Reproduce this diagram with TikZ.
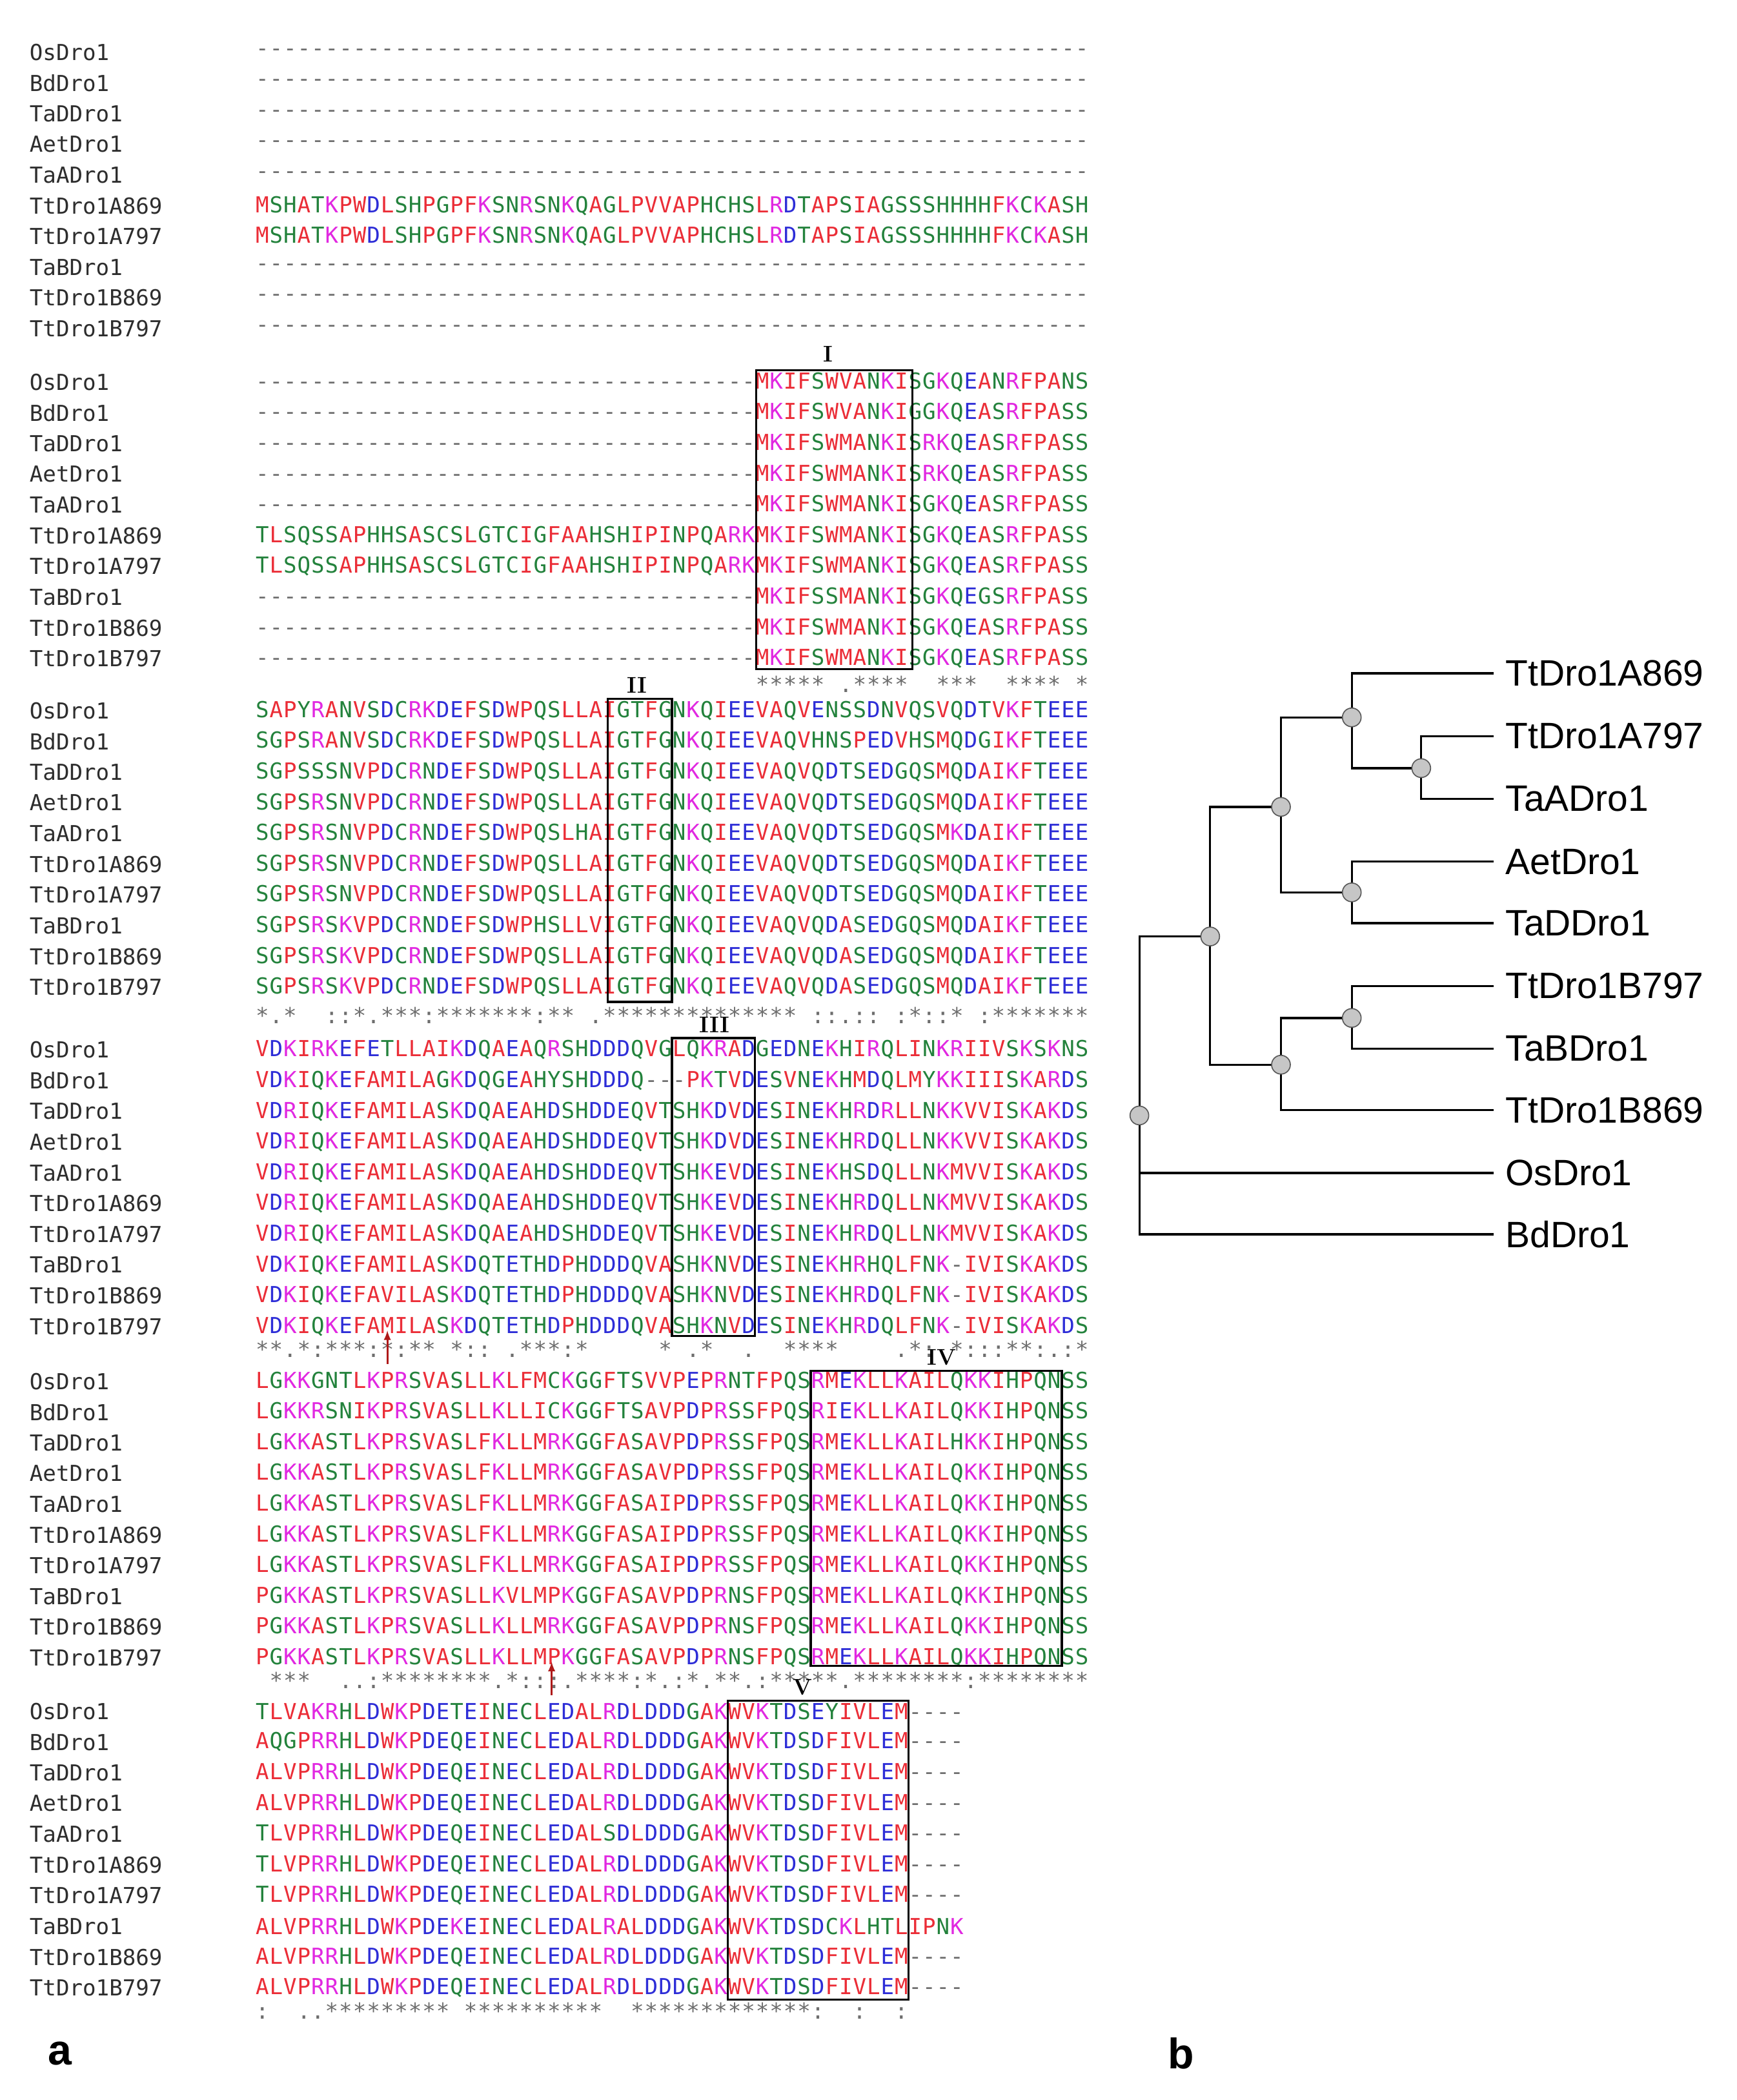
\documentclass[tikz,border=0pt]{standalone}
\usepackage{fontspec}
\usepackage{tikz}
\newfontfamily\seqfont{DejaVu Sans Mono}
\newfontfamily\treefont{Liberation Sans}

\definecolor{aared}{RGB}{235,45,55}
\definecolor{aablue}{RGB}{45,45,215}
\definecolor{aamag}{RGB}{225,40,225}
\definecolor{aagreen}{RGB}{35,130,60}
\definecolor{aagap}{RGB}{110,110,110}
\definecolor{namecol}{RGB}{45,45,45}
\definecolor{arrowred}{RGB}{175,25,25}

\ExplSyntaxOn
\cs_new:Npn \aa_res:n #1
  {
    \makebox[10.4pt]{
      \tl_if_in:nnTF {AVFPMILW} {#1} {\color{aared}#1}
        {
          \tl_if_in:nnTF {DE} {#1} {\color{aablue}#1}
            {
              \tl_if_in:nnTF {RK} {#1} {\color{aamag}#1}
                {
                  \tl_if_in:nnTF {-} {#1} {\color{aagap}#1} {\color{aagreen}#1}
                }
            }
        }
    }
  }
\cs_new:Npn \aa_con:n #1
  { \makebox[10.4pt]{ \str_if_eq:nnTF {#1} {x} {} {#1} } }
\cs_new:Npn \aa_seq:n #1 { \tl_map_inline:nn {#1} { \aa_res:n {##1} } }
\cs_new:Npn \aa_cons:n #1 { \tl_map_inline:nn {#1} { \aa_con:n {##1} } }
\NewDocumentCommand \aaseq {m} { \exp_args:No \aa_seq:n {#1} }
\NewDocumentCommand \consln {m} { \aa_cons:n {#1} }
\ExplSyntaxOff

\tikzset{
  sname/.style={anchor=west, inner sep=0pt, text=namecol, font=\seqfont\fontsize{16.5}{18}\selectfont},
  sres/.style={anchor=west, inner sep=0pt, font=\seqfont\fontsize{16.5}{18}\selectfont},
  cons/.style={anchor=west, inner sep=0pt, text=aagap, font=\seqfont\fontsize{16.5}{18}\selectfont},
  motif/.style={line width=1.6pt},
  mlabel/.style={font=\rmfamily\bfseries\fontsize{17}{17}\selectfont},
  leaf/.style={anchor=west, inner sep=0pt, inner xsep=9pt, font=\treefont\fontsize{27.5}{30}\selectfont},
  branch/.style={line width=1.6pt},
  inode/.style={circle, draw=gray!70!black, fill=gray!45, line width=0.8pt, minimum size=14pt, inner sep=0pt},
  panel/.style={font=\treefont\bfseries\fontsize{32}{34}\selectfont}
}

\newcommand\alnblock[3]{%
  \foreach \nm/\sq [count=\r] in {#3} {
    \node[sname] (n#1-\r) at (22,{#2+(\r-1)*23}) {\nm};
    \node[sres] (s#1-\r) at (191,{#2+(\r-1)*23}) {\aaseq{\sq}};
  }}

\begin{document}
\begin{tikzpicture}[x=1pt,y=-1pt]
    \useasboundingbox[fill=white] (0,0) rectangle (1300,1572);

    % Alignment blocks
    \alnblock{1}{39}{OsDro1/------------------------------------------------------------,
      BdDro1/------------------------------------------------------------,
      TaDDro1/------------------------------------------------------------,
      AetDro1/------------------------------------------------------------,
      TaADro1/------------------------------------------------------------,
      TtDro1A869/MSHATKPWDLSHPGPFKSNRSNKQAGLPVVAPHCHSLRDTAPSIAGSSSHHHHFKCKASH,
      TtDro1A797/MSHATKPWDLSHPGPFKSNRSNKQAGLPVVAPHCHSLRDTAPSIAGSSSHHHHFKCKASH,
      TaBDro1/------------------------------------------------------------,
      TtDro1B869/------------------------------------------------------------,
      TtDro1B797/------------------------------------------------------------}

    \alnblock{2}{286}{OsDro1/------------------------------------MKIFSWVANKISGKQEANRFPANS,
      BdDro1/------------------------------------MKIFSWVANKIGGKQEASRFPASS,
      TaDDro1/------------------------------------MKIFSWMANKISRKQEASRFPASS,
      AetDro1/------------------------------------MKIFSWMANKISRKQEASRFPASS,
      TaADro1/------------------------------------MKIFSWMANKISGKQEASRFPASS,
      TtDro1A869/TLSQSSAPHHSASCSLGTCIGFAAHSHIPINPQARKMKIFSWMANKISGKQEASRFPASS,
      TtDro1A797/TLSQSSAPHHSASCSLGTCIGFAAHSHIPINPQARKMKIFSWMANKISGKQEASRFPASS,
      TaBDro1/------------------------------------MKIFSSMANKISGKQEGSRFPASS,
      TtDro1B869/------------------------------------MKIFSWMANKISGKQEASRFPASS,
      TtDro1B797/------------------------------------MKIFSWMANKISGKQEASRFPASS}

    \alnblock{3}{532}{OsDro1/SAPYRANVSDCRKDEFSDWPQSLLAIGTFGNKQIEEVAQVENSSDNVQSVQDTVKFTEEE,
      BdDro1/SGPSRANVSDCRKDEFSDWPQSLLAIGTFGNKQIEEVAQVHNSPEDVHSMQDGIKFTEEE,
      TaDDro1/SGPSSSNVPDCRNDEFSDWPQSLLAIGTFGNKQIEEVAQVQDTSEDGQSMQDAIKFTEEE,
      AetDro1/SGPSRSNVPDCRNDEFSDWPQSLLAIGTFGNKQIEEVAQVQDTSEDGQSMQDAIKFTEEE,
      TaADro1/SGPSRSNVPDCRNDEFSDWPQSLHAIGTFGNKQIEEVAQVQDTSEDGQSMKDAIKFTEEE,
      TtDro1A869/SGPSRSNVPDCRNDEFSDWPQSLLAIGTFGNKQIEEVAQVQDTSEDGQSMQDAIKFTEEE,
      TtDro1A797/SGPSRSNVPDCRNDEFSDWPQSLLAIGTFGNKQIEEVAQVQDTSEDGQSMQDAIKFTEEE,
      TaBDro1/SGPSRSKVPDCRNDEFSDWPHSLLVIGTFGNKQIEEVAQVQDASEDGQSMQDAIKFTEEE,
      TtDro1B869/SGPSRSKVPDCRNDEFSDWPQSLLAIGTFGNKQIEEVAQVQDASEDGQSMQDAIKFTEEE,
      TtDro1B797/SGPSRSKVPDCRNDEFSDWPQSLLAIGTFGNKQIEEVAQVQDASEDGQSMQDAIKFTEEE}

    \alnblock{4}{786}{OsDro1/VDKIRKEFETLLAIKDQAEAQRSHDDDQVGLQKRADGEDNEKHIRQLINKRIIVSKSKNS,
      BdDro1/VDKIQKEFAMILAGKDQGEAHYSHDDDQ---PKTVDESVNEKHMDQLMYKKIIISKARDS,
      TaDDro1/VDRIQKEFAMILASKDQAEAHDSHDDEQVTSHKDVDESINEKHRDRLLNKKVVISKAKDS,
      AetDro1/VDRIQKEFAMILASKDQAEAHDSHDDEQVTSHKDVDESINEKHRDQLLNKKVVISKAKDS,
      TaADro1/VDRIQKEFAMILASKDQAEAHDSHDDEQVTSHKEVDESINEKHSDQLLNKMVVISKAKDS,
      TtDro1A869/VDRIQKEFAMILASKDQAEAHDSHDDEQVTSHKEVDESINEKHRDQLLNKMVVISKAKDS,
      TtDro1A797/VDRIQKEFAMILASKDQAEAHDSHDDEQVTSHKEVDESINEKHRDQLLNKMVVISKAKDS,
      TaBDro1/VDKIQKEFAMILASKDQTETHDPHDDDQVASHKNVDESINEKHRHQLFNK-IVISKAKDS,
      TtDro1B869/VDKIQKEFAVILASKDQTETHDPHDDDQVASHKNVDESINEKHRDQLFNK-IVISKAKDS,
      TtDro1B797/VDKIQKEFAMILASKDQTETHDPHDDDQVASHKNVDESINEKHRDQLFNK-IVISKAKDS}

    \alnblock{5}{1034}{OsDro1/LGKKGNTLKPRSVASLLKLFMCKGGFTSVVPEPRNTFPQSRMEKLLKAILQKKIHPQNSS,
      BdDro1/LGKKRSNIKPRSVASLLKLLICKGGFTSAVPDPRSSFPQSRIEKLLKAILQKKIHPQNSS,
      TaDDro1/LGKKASTLKPRSVASLFKLLMRKGGFASAVPDPRSSFPQSRMEKLLKAILHKKIHPQNSS,
      AetDro1/LGKKASTLKPRSVASLFKLLMRKGGFASAVPDPRSSFPQSRMEKLLKAILQKKIHPQNSS,
      TaADro1/LGKKASTLKPRSVASLFKLLMRKGGFASAIPDPRSSFPQSRMEKLLKAILQKKIHPQNSS,
      TtDro1A869/LGKKASTLKPRSVASLFKLLMRKGGFASAIPDPRSSFPQSRMEKLLKAILQKKIHPQNSS,
      TtDro1A797/LGKKASTLKPRSVASLFKLLMRKGGFASAIPDPRSSFPQSRMEKLLKAILQKKIHPQNSS,
      TaBDro1/PGKKASTLKPRSVASLLKVLMPKGGFASAVPDPRNSFPQSRMEKLLKAILQKKIHPQNSS,
      TtDro1B869/PGKKASTLKPRSVASLLKLLMRKGGFASAVPDPRNSFPQSRMEKLLKAILQKKIHPQNSS,
      TtDro1B797/PGKKASTLKPRSVASLLKLLMPKGGFASAVPDPRNSFPQSRMEKLLKAILQKKIHPQNSS}

    \alnblock{6}{1281}{OsDro1/TLVAKRHLDWKPDETEINECLEDALRDLDDDGAKWVKTDSEYIVLEM----,
      BdDro1/AQGPRRHLDWKPDEQEINECLEDALRDLDDDGAKWVKTDSDFIVLEM----,
      TaDDro1/ALVPRRHLDWKPDEQEINECLEDALRDLDDDGAKWVKTDSDFIVLEM----,
      AetDro1/ALVPRRHLDWKPDEQEINECLEDALRDLDDDGAKWVKTDSDFIVLEM----,
      TaADro1/TLVPRRHLDWKPDEQEINECLEDALSDLDDDGAKWVKTDSDFIVLEM----,
      TtDro1A869/TLVPRRHLDWKPDEQEINECLEDALRDLDDDGAKWVKTDSDFIVLEM----,
      TtDro1A797/TLVPRRHLDWKPDEQEINECLEDALRDLDDDGAKWVKTDSDFIVLEM----,
      TaBDro1/ALVPRRHLDWKPDEKEINECLEDALRALDDDGAKWVKTDSDCKLHTLIPNK,
      TtDro1B869/ALVPRRHLDWKPDEQEINECLEDALRDLDDDGAKWVKTDSDFIVLEM----,
      TtDro1B797/ALVPRRHLDWKPDEQEINECLEDALRDLDDDGAKWVKTDSDFIVLEM----}

    % Conservation lines
    \node[cons] (c2) at (191,512) {\consln{xxxxxxxxxxxxxxxxxxxxxxxxxxxxxxxxxxxx*****x.****xx***xx****x*}};
    \node[cons] (c3) at (191,760) {\consln{*.*xx::*.***:*******:**x.**************x::.::x:*::*x:*******}};
    \node[cons] (c4) at (191,1010) {\consln{**.*:***:*:**x*::x.***:*xxxxx*x.*xx.xx****xxxx.*:x*:::**:.:*}};
    \node[cons] (c5) at (191,1258) {\consln{x***xx..:********.*:::.****:*.:*.**.:*****.********:********}};
    \node[cons] (c6) at (191,1505) {\consln{:xx..*********x**********xx*************:xx:xx:xxxx}};

    % Motif boxes
    \draw[motif] (566,277) rectangle (683,501);
    \draw[motif] (455,523) rectangle (503,750);
    \draw[motif] (503,777) rectangle (565,1000);
    \draw[motif] (607,1026) rectangle (795,1247);
    \draw[motif] (545,1273) rectangle (680,1497);
    \node[mlabel] (mI) at (620,265) {I};
    \node[mlabel] (mII) at (477,513) {II};
    \node[mlabel] (mIII) at (535,767) {III};
    \node[mlabel] (mIV) at (705,1016) {IV};
    \node[mlabel] (mV) at (601,1263) {V};

    % Red arrows
    \coordinate (r1a) at (290,1021);
    \coordinate (r1b) at (290,996);
    \coordinate (r2a) at (413,1269);
    \coordinate (r2b) at (413,1244);
    \draw[arrowred, line width=1.4pt, -latex] (r1a) -- (r1b);
    \draw[arrowred, line width=1.4pt, -latex] (r2a) -- (r2b);

    % Tree
    \node[leaf] (tA869) at (1118,504) {TtDro1A869};
    \node[leaf] (tA797) at (1118,551) {TtDro1A797};
    \node[leaf] (tTaA) at (1118,598) {TaADro1};
    \node[leaf] (tAet) at (1118,645) {AetDro1};
    \node[leaf] (tTaD) at (1118,691) {TaDDro1};
    \node[leaf] (tB797) at (1118,738) {TtDro1B797};
    \node[leaf] (tTaB) at (1118,785) {TaBDro1};
    \node[leaf] (tB869) at (1118,831) {TtDro1B869};
    \node[leaf] (tOs) at (1118,878) {OsDro1};
    \node[leaf] (tBd) at (1118,924) {BdDro1};

    \coordinate (root) at (853,835);
    \coordinate (k1) at (906,701);
    \coordinate (k2) at (959,604);
    \coordinate (k3) at (1012,537);
    \coordinate (k4) at (1012,668);
    \coordinate (k5) at (1064,575);
    \coordinate (k6) at (959,797);
    \coordinate (k7) at (1012,762);

    \draw[branch] (root) |- (k1);
    \draw[branch] (root) |- (tOs.west);
    \draw[branch] (root) |- (tBd.west);
    \draw[branch] (k1) |- (k2);
    \draw[branch] (k1) |- (k6);
    \draw[branch] (k2) |- (k3);
    \draw[branch] (k2) |- (k4);
    \draw[branch] (k3) |- (tA869.west);
    \draw[branch] (k3) |- (k5);
    \draw[branch] (k5) |- (tA797.west);
    \draw[branch] (k5) |- (tTaA.west);
    \draw[branch] (k4) |- (tAet.west);
    \draw[branch] (k4) |- (tTaD.west);
    \draw[branch] (k6) |- (k7);
    \draw[branch] (k6) |- (tB869.west);
    \draw[branch] (k7) |- (tB797.west);
    \draw[branch] (k7) |- (tTaB.west);

    \foreach \k in {root,k1,k2,k3,k4,k5,k6,k7}
        \node[inode] at (\k) {};

    % Panel labels
    \node[panel] (pa) at (45,1537) {a};
    \node[panel] (pb) at (884,1537) {b};
\end{tikzpicture}
\end{document}
